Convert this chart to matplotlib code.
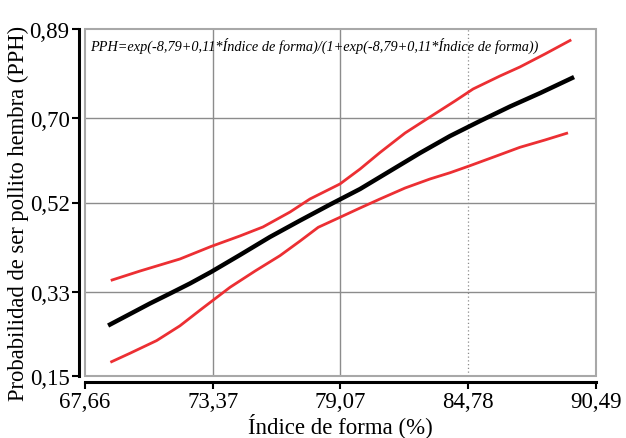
import matplotlib.pyplot as plt
from matplotlib.patches import Rectangle

# Datos
x_ticks = [67.66, 73.37, 79.07, 84.78, 90.49]
x_tick_labels = ["67,66", "73,37", "79,07", "84,78", "90,49"]
y_ticks = [0.15, 0.33, 0.52, 0.70, 0.89]
y_tick_labels = ["0,15", "0,33", "0,52", "0,70", "0,89"]

# curva ajustada (PPH)
x_pph = [68.78, 69.67, 70.56, 71.46, 72.35, 73.29, 74.58, 75.92, 77.27, 78.61,
         79.95, 81.29, 82.63, 83.97, 85.31, 86.65, 88.00, 89.42]
y_pph = [0.2598, 0.2822, 0.3046, 0.3259, 0.3473, 0.3718, 0.4080, 0.4464, 0.4816, 0.5157,
         0.5488, 0.5872, 0.6256, 0.6618, 0.6938, 0.7247, 0.7535, 0.7855]

# banda superior
x_sup = [68.87, 70.12, 71.90, 73.29, 74.58, 75.61, 76.82, 77.71, 79.05, 79.95,
         80.84, 81.96, 83.21, 84.19, 85.00, 86.20, 87.09, 88.21, 89.33]
y_sup = [0.3547, 0.3739, 0.3995, 0.4262, 0.4486, 0.4678, 0.4997, 0.5275, 0.5595, 0.5914,
         0.6266, 0.6682, 0.7066, 0.7365, 0.7621, 0.7898, 0.8090, 0.8367, 0.8655]

# banda inferior
x_inf = [68.85, 69.67, 70.86, 71.90, 72.87, 74.14, 75.26, 76.37, 77.27, 78.08, 79.05,
         79.95, 80.84, 81.96, 83.07, 83.97, 84.86, 85.98, 87.09, 88.21, 89.18]
y_inf = [0.1805, 0.1985, 0.2255, 0.2570, 0.2930, 0.3392, 0.3739, 0.4066, 0.4379, 0.4671, 0.4884,
         0.5083, 0.5275, 0.5509, 0.5701, 0.5835, 0.5985, 0.6181, 0.6377, 0.6533, 0.6676]

plt.rcParams['font.family'] = ['Liberation Serif', 'DejaVu Serif']

fig = plt.figure(figsize=(6.26, 4.39), dpi=100)
ax = fig.add_axes([85 / 626, 1 - 377 / 439, 511 / 626, 347 / 439])

gris = '#8c8c8c'
# rejilla
for xv in x_ticks[1:3]:
    ax.axvline(xv, color=gris, lw=1.0, zorder=1)
ax.axvline(x_ticks[3], color=gris, lw=0.9, ls=(0, (1, 2)), zorder=1)
for yv in y_ticks[1:4]:
    ax.axhline(yv, color=gris, lw=1.0, zorder=1)

ax.plot(x_sup, y_sup, color='#ec2f33', lw=2.0, zorder=3, solid_joinstyle='round')
ax.plot(x_inf, y_inf, color='#ec2f33', lw=2.0, zorder=3, solid_joinstyle='round')
ax.plot(x_pph, y_pph, color='black', lw=3.2, zorder=4, solid_joinstyle='round')

ax.set_xlim(x_ticks[0], x_ticks[-1])
ax.set_ylim(y_ticks[0], y_ticks[-1])

# marco gris del area de datos
ax.add_patch(Rectangle((0, 0), 1, 1, transform=ax.transAxes, fill=False,
                       edgecolor='#a8a8a8', lw=1.5, zorder=5, clip_on=False))

for s in ['top', 'right']:
    ax.spines[s].set_visible(False)
for s in ['left', 'bottom']:
    ax.spines[s].set_position(('outward', 4))
    ax.spines[s].set_linewidth(2.2)
    ax.spines[s].set_color('black')

ax.set_xticks(x_ticks)
ax.set_xticklabels(x_tick_labels)
ax.set_yticks(y_ticks)
ax.set_yticklabels(y_tick_labels)
ax.tick_params(direction='out', length=5, width=1.5, labelsize=16.5, pad=2)

ax.set_xlabel('Índice de forma (%)', fontsize=16.5, labelpad=0)
ax.set_ylabel('Probabilidad de ser pollito hembra (PPH)', fontsize=16.3)
ax.yaxis.set_label_coords(-0.11, 0.47)

ax.text(0.01, 0.955, 'PPH=exp(-8,79+0,11*Índice de forma)/(1+exp(-8,79+0,11*Índice de forma))',
        transform=ax.transAxes, fontsize=10.3, style='italic', va='center', ha='left', zorder=6)

fig.savefig('out.png', dpi=100)
